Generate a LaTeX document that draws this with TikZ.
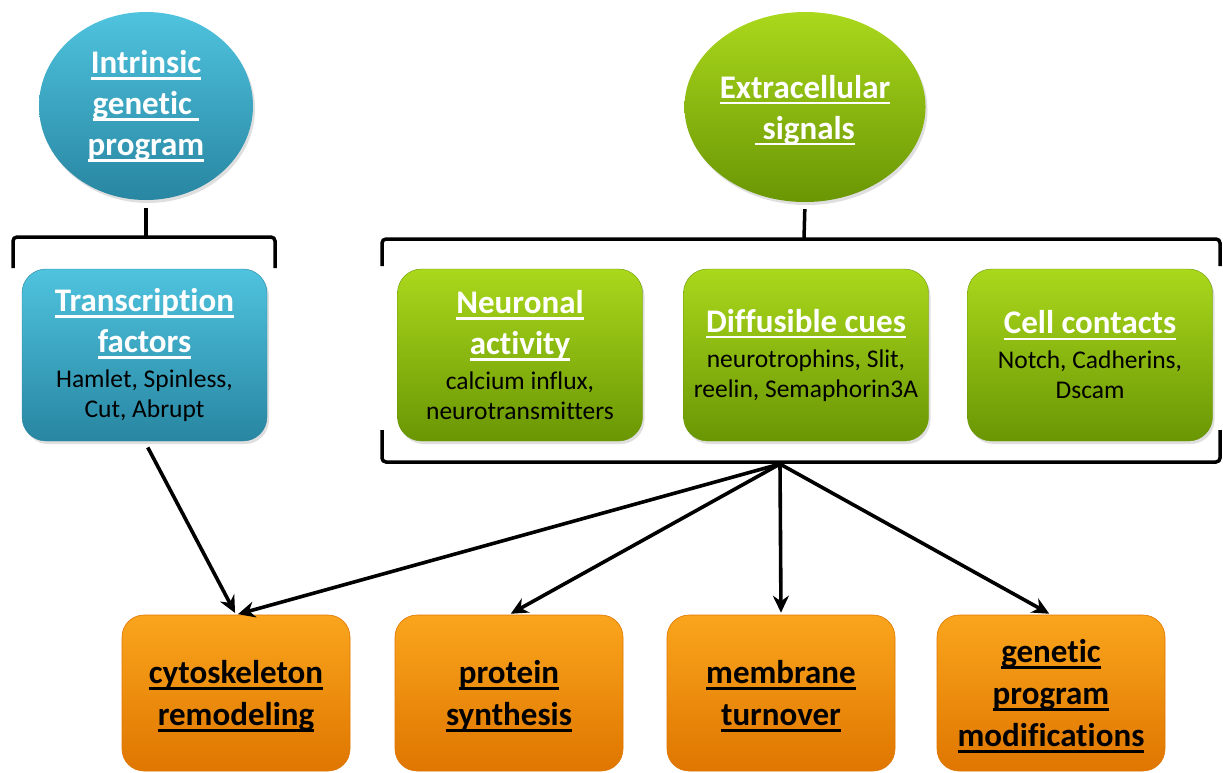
\documentclass[tikz,border=0pt]{standalone}
\usepackage{fontspec}
\setmainfont{Carlito}[Ligatures=NoCommon]
\usetikzlibrary{arrows.meta, shapes.geometric, shadows}

\definecolor{CELLblue}{HTML}{4FC3DE}
\definecolor{CELLbluedk}{HTML}{2886A2}
\definecolor{CELLgreen}{HTML}{AAD81C}
\definecolor{CELLgreendk}{HTML}{6A9604}
\definecolor{CELLorange}{HTML}{FAA51D}
\definecolor{CELLorangedk}{HTML}{DF7600}

% underlined heading line
\newcommand\undl[1]{\leavevmode\setbox0\hbox{#1}\rlap{\rule[-0.19em]{\wd0}{0.075em}}\box0}
\newcommand\subfont{\fontsize{25.5}{30}\selectfont\mdseries\color{black}}

\begin{document}
\begin{tikzpicture}[x=1pt, y=-1pt,
   ttl/.style={font=\fontsize{33}{41}\selectfont\bfseries, align=center, inner sep=0pt},
   blob/.style={ellipse, ttl, text=white, drop shadow={opacity=0.25, shadow xshift=2pt, shadow yshift=-3pt}},
   card/.style={rectangle, rounded corners=24pt, ttl, text=white, minimum width=245pt, minimum height=172pt,
      drop shadow={opacity=0.25, shadow xshift=2pt, shadow yshift=-3pt}},
   outcome/.style={rectangle, rounded corners=22pt, ttl, font=\fontsize{33}{42}\selectfont\bfseries, text=black,
      text depth=0pt, minimum width=228pt, minimum height=156pt, top color=CELLorange, bottom color=CELLorangedk,
      draw=CELLorangedk, line width=0.6pt},
   brk/.style={line width=3.5pt, rounded corners=4pt},
   link/.style={line width=3.6pt, -{Stealth[length=17pt, width=16pt]}}]
   \useasboundingbox (0,0) rectangle (1223,772);

   % Sources
   \node[blob, minimum width=214pt, minimum height=188pt, top color=CELLblue, bottom color=CELLbluedk]
      (intr) at (146,106) {\undl{Intrinsic}\\ \undl{genetic\ }\\ \undl{program}};
   \node[blob, text depth=0pt, minimum width=216pt, minimum height=190pt, top color=CELLgreen, bottom color=CELLgreendk]
      (extra) at (805,107) {\undl{Extracellular}\\ \undl{\ signals}};

   % Factors
   \node[card, top color=CELLblue, bottom color=CELLbluedk, draw=CELLbluedk] (tf) at (144.5,355)
      {\undl{Transcription}\\ \undl{factors}\\[-6pt] \subfont Hamlet, Spinless,\\[-11pt] \subfont Cut, Abrupt};
   \node[card, top color=CELLgreen, bottom color=CELLgreendk, draw=CELLgreendk] (neuro) at (520,355)
      {\undl{Neuronal}\\ \undl{activity}\\[-6pt] \subfont calcium influx,\\[-11pt] \subfont neurotransmitters};
   \node[card, top color=CELLgreen, bottom color=CELLgreendk, draw=CELLgreendk] (diff) at (806,355)
      {\undl{Diffusible cues}\\[-6pt] \subfont neurotrophins, Slit,\\[-11pt] \subfont reelin, Semaphorin3A};
   \node[card, top color=CELLgreen, bottom color=CELLgreendk, draw=CELLgreendk] (cell) at (1090,355)
      {\undl{Cell contacts}\\[-6pt] \subfont Notch, Cadherins,\\[-11pt] \subfont Dscam};

   % Outcomes
   \node[outcome] (cyto) at (236,693) {\undl{cytoskeleton}\\ \undl{remodeling}};
   \node[outcome] (prot) at (509,693) {\undl{protein}\\ \undl{synthesis}};
   \node[outcome] (memb) at (781,693) {\undl{membrane}\\ \undl{turnover}};
   \node[outcome] (genp) at (1051,693) {\undl{genetic}\\ \undl{program}\\ \undl{modifications}};

   % Brackets
   \draw[brk] (13,268) -- (13,237) -- (275,237) -- (275,268);
   \coordinate (ltip) at (146,237);
   \draw[line width=3.5pt, shorten <=8pt] (intr.south) -- (ltip);
   \draw[brk] (382,266) -- (382,239) -- (1220,239) -- (1220,266);
   \draw[brk] (382,430) -- (382,462) -- (1220,462) -- (1220,430);
   \coordinate (rtip) at (804,239);
   \draw[line width=3.5pt, shorten <=7pt] (extra.south) -- (rtip);
   \coordinate (hub) at (780,464);

   % Arrows
   \draw[link, shorten <=7pt, shorten >=2pt] (tf.south) -- (cyto.north);
   \foreach \t in {cyto,prot,memb,genp}
      \draw[link, shorten >=2pt] (hub) -- (\t.north);
\end{tikzpicture}
\end{document}
